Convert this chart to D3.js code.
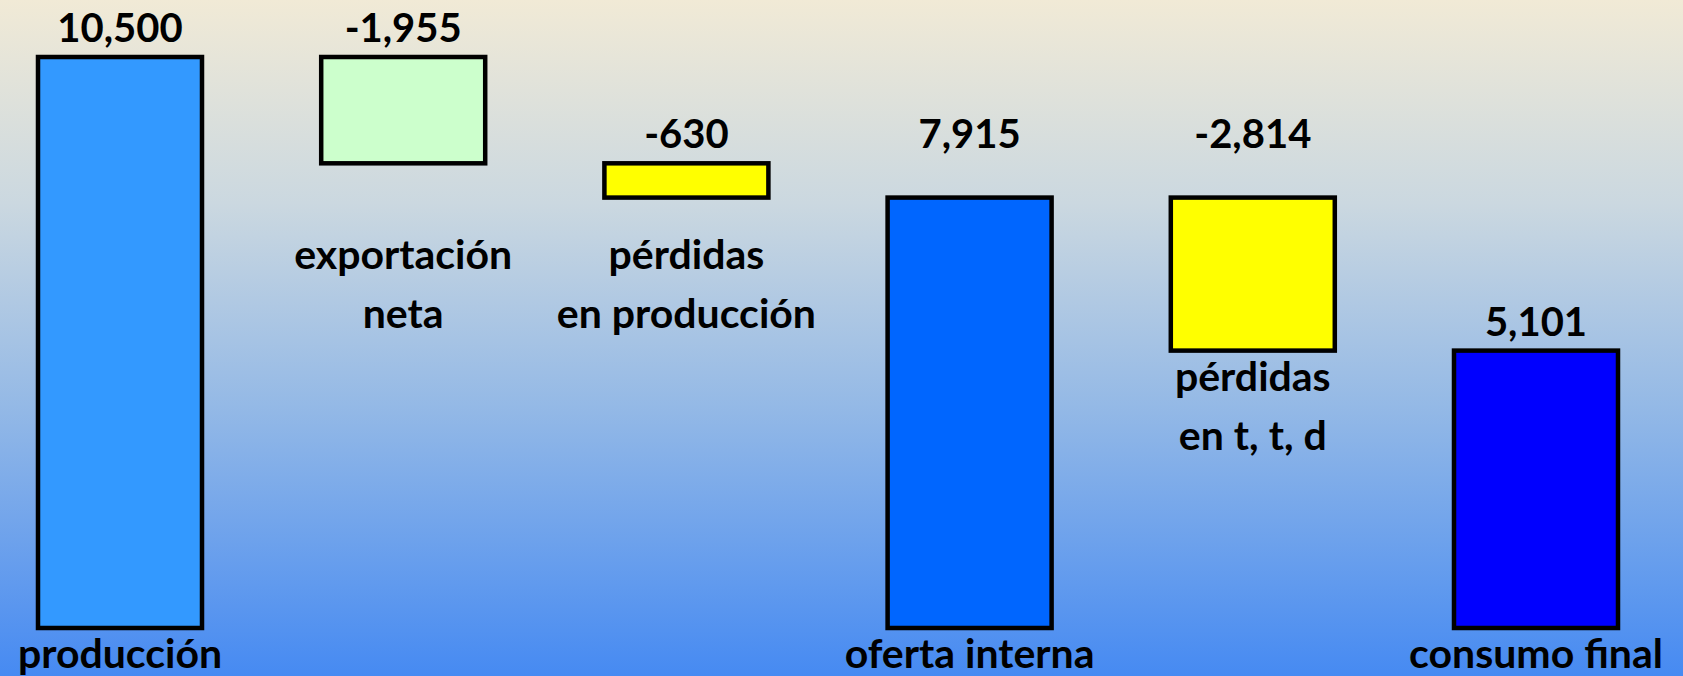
<!DOCTYPE html>
<html>
<head>
<meta charset="utf-8">
<script src="https://cdn.jsdelivr.net/npm/d3@7"></script>
<style>
  body { margin: 0; overflow: hidden; }
  svg { display: block; }
  text { font-family: Lato, "Open Sans", sans-serif; font-weight: 700; fill: #000; }
</style>
</head>
<body>
<div id="chart"></div>
<script>
// categories and their text lines under the bars
const categories = ["producción", "exportación neta", "pérdidas en producción", "oferta interna", "pérdidas en t, t, d", "consumo final"];
const labelLines = [["producción"], ["exportación", "neta"], ["pérdidas", "en producción"], ["oferta interna"], ["pérdidas", "en t, t, d"], ["consumo final"]];
// values (totals start from zero, the others are steps of the running total)
const values = [10500, -1955, -630, 7915, -2814, 5101];
const isTotal = [true, false, false, true, false, true];
const barColors = ["#3399FF", "#CCFFCC", "#FFFF00", "#0066FF", "#FFFF00", "#0000FF"];

const width = 1683, height = 676;
const margin = { top: 57, bottom: 48, left: 120, right: 147 };
const barWidth = 164;
const labelRowMin = 269;   // first text row of the step labels
const lineGap = 59;
const snapGap = 40;        // value labels this close to the previous row share it

const fmt = d3.formatLocale({ decimal: ".", thousands: ",", grouping: [3], currency: ["", ""], minus: "-" }).format(",");

// waterfall: start / end of every bar
let running = 0;
const bars = categories.map((c, i) => {
  let start, end;
  if (isTotal[i]) { start = 0; end = values[i]; running = values[i]; }
  else { start = running; end = running + values[i]; running = end; }
  return { cat: c, value: values[i], lines: labelLines[i], total: isTotal[i], start, end, color: barColors[i] };
});

const svg = d3.select("#chart").append("svg")
  .attr("width", width)
  .attr("height", height);

// background gradient
const grad = svg.append("defs").append("linearGradient")
  .attr("id", "bg")
  .attr("x1", 0).attr("y1", 0).attr("x2", 0).attr("y2", 1);
grad.append("stop").attr("offset", "0%").attr("stop-color", "#F1EAD6");
grad.append("stop").attr("offset", "30%").attr("stop-color", "#CBD8E0");
grad.append("stop").attr("offset", "60%").attr("stop-color", "#94B9E6");
grad.append("stop").attr("offset", "100%").attr("stop-color", "#468AF2");
svg.append("rect")
  .attr("width", width).attr("height", height)
  .attr("fill", "url(#bg)");

const x = d3.scalePoint()
  .domain(categories)
  .range([margin.left, width - margin.right]);

const y = d3.scaleLinear()
  .domain([0, d3.max(values)])
  .range([height - margin.bottom, margin.top]);

// bars
svg.selectAll(".bar")
  .data(bars)
  .join("rect")
  .attr("class", "bar")
  .attr("x", d => x(d.cat) - barWidth / 2)
  .attr("y", d => y(Math.max(d.start, d.end)))
  .attr("width", barWidth)
  .attr("height", d => y(Math.min(d.start, d.end)) - y(Math.max(d.start, d.end)))
  .attr("fill", d => d.color)
  .attr("stroke", "#000")
  .attr("stroke-width", 4.5);

// value label rows: just above the bar, aligned with the previous row when close
let prevRow = null;
bars.forEach(d => {
  let row = y(Math.max(d.start, d.end)) - 15;
  if (prevRow !== null && row > prevRow && row - prevRow < snapGap) row = prevRow;
  d.valueY = row;
  prevRow = row;
});

svg.selectAll(".value")
  .data(bars)
  .join("text")
  .attr("class", "value")
  .attr("text-anchor", "middle")
  .attr("font-size", 40)
  .attr("x", d => x(d.cat))
  .attr("y", d => d.valueY)
  .text(d => fmt(d.value));

// category labels: totals at the bottom, steps just under their bar
const labels = svg.selectAll(".label")
  .data(bars)
  .join("text")
  .attr("class", "label")
  .attr("text-anchor", "middle")
  .attr("font-size", 41)
  .attr("x", d => x(d.cat))
  .attr("y", d => d.total
    ? height - 8
    : Math.max(y(Math.min(d.start, d.end)) + 40, labelRowMin));

labels.selectAll("tspan")
  .data(d => d.lines.map((l, i) => ({ l, i, cx: x(d.cat) })))
  .join("tspan")
  .attr("x", t => t.cx)
  .attr("dy", t => t.i === 0 ? 0 : lineGap)
  .text(t => t.l);
</script>
</body>
</html>
